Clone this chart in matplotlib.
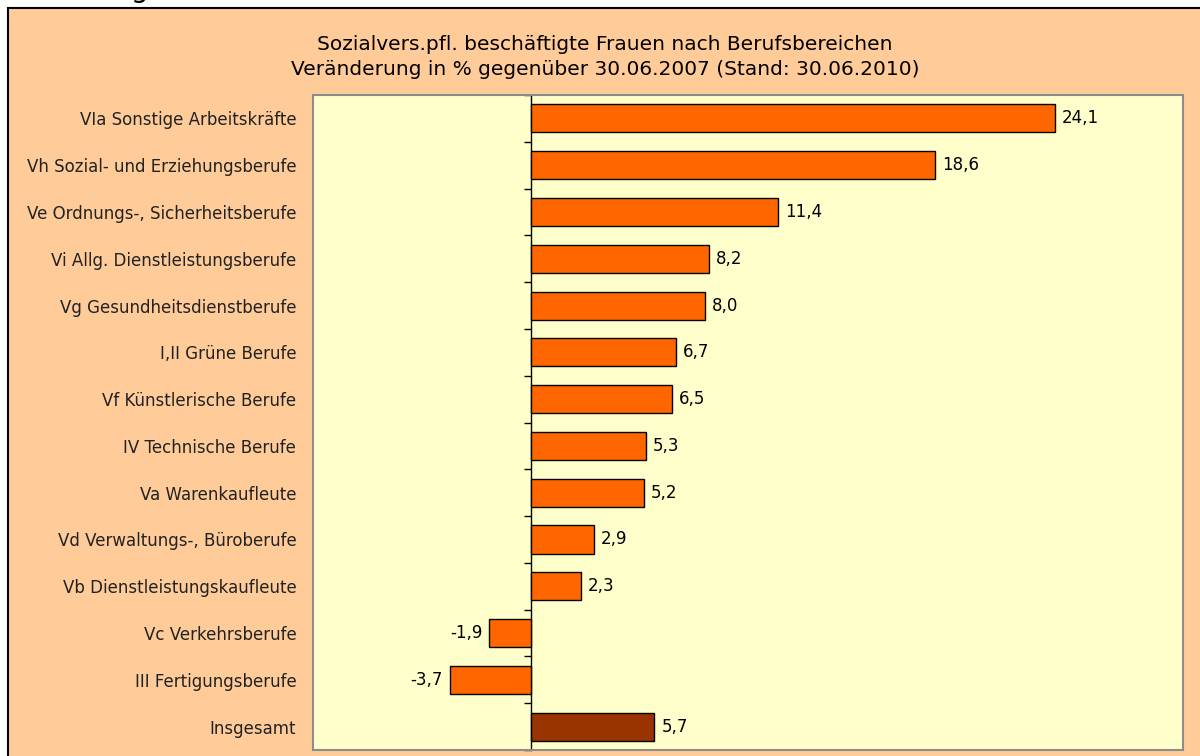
import matplotlib
matplotlib.use("Agg")
import matplotlib.pyplot as plt
from matplotlib.patches import Rectangle

categories = [
    "VIa Sonstige Arbeitskräfte",
    "Vh Sozial- und Erziehungsberufe",
    "Ve Ordnungs-, Sicherheitsberufe",
    "Vi Allg. Dienstleistungsberufe",
    "Vg Gesundheitsdienstberufe",
    "I,II Grüne Berufe",
    "Vf Künstlerische Berufe",
    "IV Technische Berufe",
    "Va Warenkaufleute",
    "Vd Verwaltungs-, Büroberufe",
    "Vb Dienstleistungskaufleute",
    "Vc Verkehrsberufe",
    "III Fertigungsberufe",
    "Insgesamt",
]
values = [24.1, 18.6, 11.4, 8.2, 8.0, 6.7, 6.5, 5.3, 5.2, 2.9, 2.3, -1.9, -3.7, 5.7]
title = "Sozialvers.pfl. beschäftigte Frauen nach Berufsbereichen\nVeränderung in % gegenüber 30.06.2007 (Stand: 30.06.2010)"

W, H = 1200, 756
fig = plt.figure(figsize=(W / 100, H / 100), dpi=100, facecolor="white")
plt.rcParams["font.family"] = ["DejaVu Sans"]

# peach background with black frame
bg = Rectangle((8 / W, -0.1), 1.2, 1 - 8 / H + 0.1, transform=fig.transFigure,
               facecolor="#FFCC99", edgecolor="black", linewidth=1.5, zorder=-10)
fig.patches.append(bg)
# cut-off text at very top
fig.text(131 / W, 1 + 3 / H, "g", fontsize=20, color="black", va="baseline", ha="left")

ax = fig.add_axes([313 / W, 6 / H, 870 / W, 655 / H])
ax.set_facecolor("#FFFFCC")
n = len(categories)
ypos = list(range(n))
colors = ["#FF6600"] * (n - 1) + ["#993300"]
ax.barh(ypos, values, height=0.6, color=colors, edgecolor="black", linewidth=1, zorder=3)
ax.set_xlim(-10, 30)
ax.set_ylim(n - 0.5, -0.5)
ax.set_xticks([])
ax.set_yticks(ypos)
ax.set_yticklabels(categories, fontsize=12, color="#222222")
ax.tick_params(axis="y", length=0, pad=12)
for s in ax.spines.values():
    s.set_color("#8C8C8C")
    s.set_linewidth(1.5)

for y, v in zip(ypos, values):
    txt = f"{v:.1f}".replace(".", ",")
    if v >= 0:
        ax.annotate(txt, (v, y), xytext=(5, 0), textcoords="offset points",
                    ha="left", va="center", fontsize=12, color="black", fontweight="medium")
    else:
        ax.annotate(txt, (v, y), xytext=(-5, 0), textcoords="offset points",
                    ha="right", va="center", fontsize=12, color="black", fontweight="medium")

# zero axis with boundary ticks
sec = ax.secondary_yaxis(0.25)
sec.set_yticks([i - 0.5 for i in range(n + 1)])
sec.set_yticklabels([])
sec.tick_params(axis="y", direction="out", length=5, color="black", width=1)
sec.spines["left"].set_color("black")
sec.spines["left"].set_linewidth(1)

fig.text(605 / W, 1 - 57 / H, title, ha="center", va="center", fontsize=14.5,
         color="black", linespacing=1.35)

fig.savefig("out.png", dpi=100, facecolor=fig.get_facecolor())
